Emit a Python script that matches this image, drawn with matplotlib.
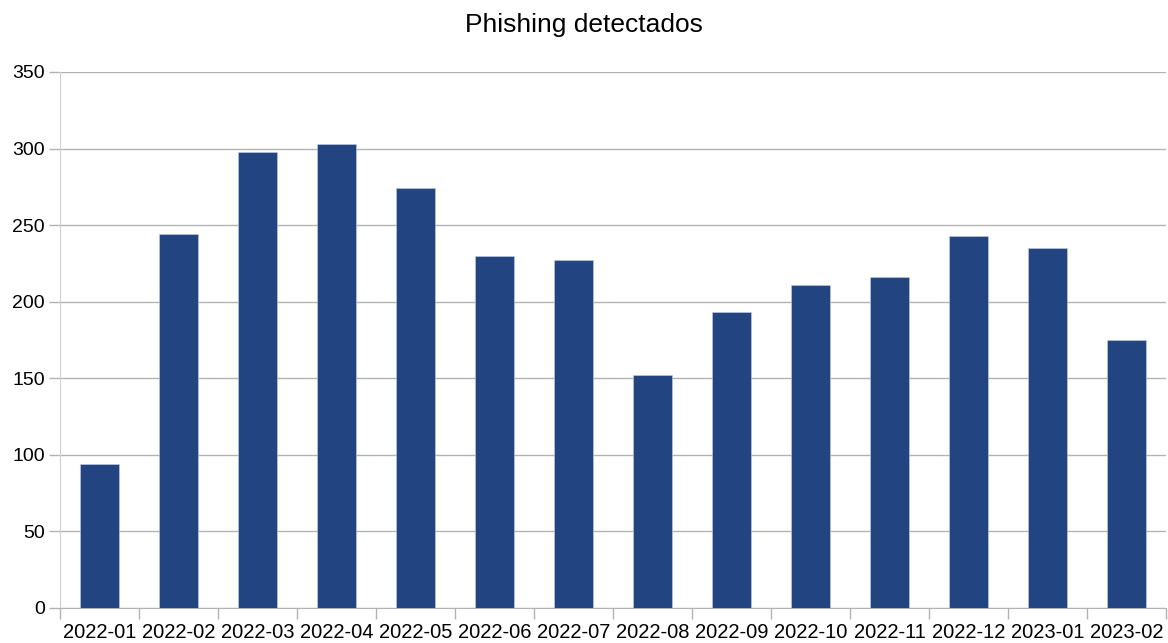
import numpy as np
import matplotlib.pyplot as plt

plt.rcParams['font.family'] = ['Liberation Sans', 'DejaVu Sans']

meses = ['2022-01', '2022-02', '2022-03', '2022-04', '2022-05', '2022-06', '2022-07',
         '2022-08', '2022-09', '2022-10', '2022-11', '2022-12', '2023-01', '2023-02']
phishing = [94, 244, 298, 303, 274, 230, 227, 152, 193, 211, 216, 243, 235, 175]

fig = plt.figure(figsize=(11.68, 6.43), dpi=100)
ax = fig.add_axes([60 / 1168, 1 - 608 / 643, 1106 / 1168, 536 / 643])

x = np.arange(len(meses))
ax.bar(x, phishing, width=0.5, color='#224480', edgecolor='#c5cfe0', linewidth=0.4, zorder=3)

ax.set_xlim(-0.5, len(meses) - 0.5)
ax.set_ylim(0, 350)
ax.set_yticks(np.arange(0, 351, 50))
ax.yaxis.grid(True, color='#b3b3b3', linewidth=1)
ax.set_axisbelow(True)

# divisões entre categorias embaixo, rótulos no centro
ax.set_xticks(np.arange(-0.5, len(meses), 1))
ax.set_xticklabels([])
ax.set_xticks(x, minor=True)
ax.set_xticklabels(meses, minor=True)
ax.tick_params(axis='x', which='major', length=8, color='#b3b3b3', width=1)
ax.tick_params(axis='x', which='minor', length=0, pad=11, labelsize=14.5)
ax.tick_params(axis='y', length=8, color='#b3b3b3', width=1, labelsize=14, pad=3)

for lado in ['top', 'right']:
    ax.spines[lado].set_visible(False)
ax.spines['bottom'].set_color('#b3b3b3')
ax.spines['left'].set_color('#d0d0d0')

fig.suptitle('Phishing detectados', fontsize=19, y=1 - 25 / 643, va='center')

fig.savefig('out.png', dpi=100)
